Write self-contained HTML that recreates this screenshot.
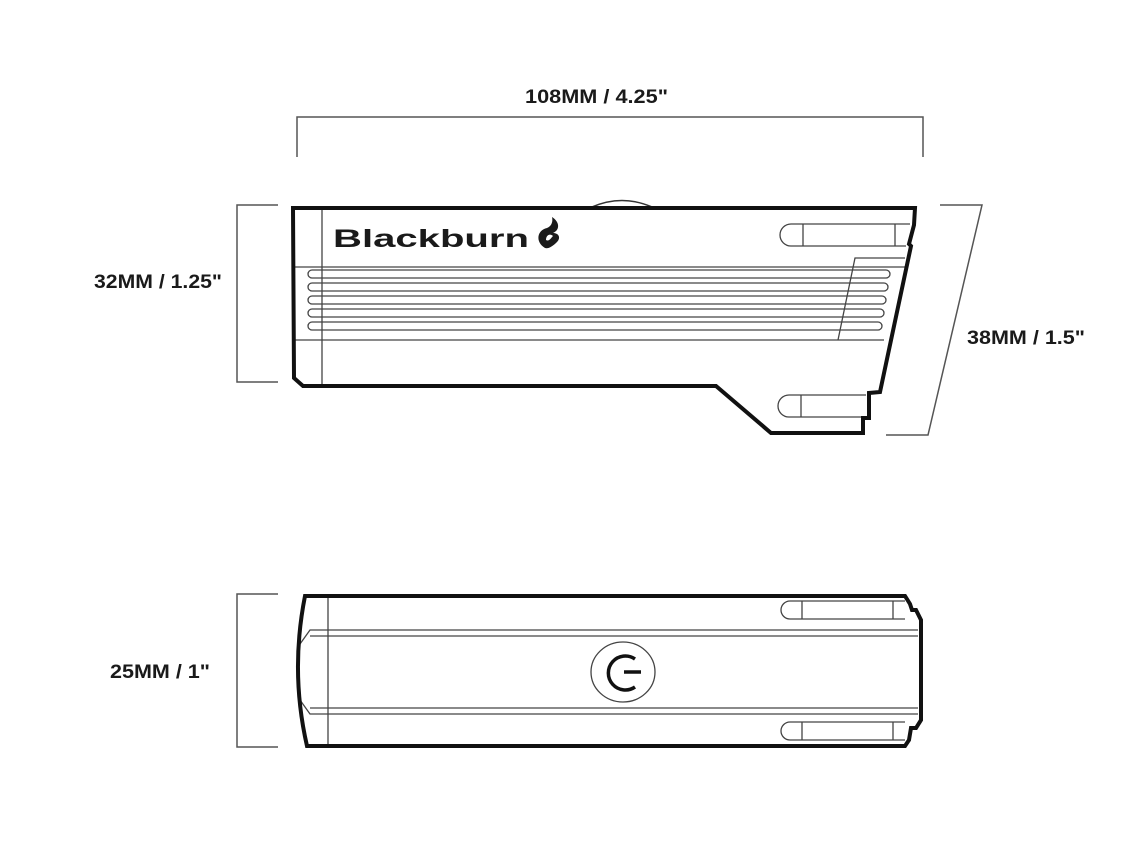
<!DOCTYPE html>
<html><head><meta charset="utf-8"><style>
html,body{margin:0;padding:0;background:#fff;width:1137px;height:855px;overflow:hidden}
svg{display:block}
text{font-family:"Liberation Sans Narrow","Liberation Sans",sans-serif;font-weight:bold;fill:#1a1a1a}
</style></head><body>
<svg width="1137" height="855" viewBox="0 0 1137 855" xmlns="http://www.w3.org/2000/svg">
<g fill="none" stroke="#555" stroke-width="1.5">
<polyline points="297,157 297,117 923,117 923,157"/>
<polyline points="278,205 237,205 237,382 278,382"/>
<polyline points="940,205 982,205 928,435 886,435"/>
<polyline points="278,594 237,594 237,747 278,747"/>
</g>
<text x="525" y="103" font-size="19" textLength="143" lengthAdjust="spacingAndGlyphs">108MM / 4.25"</text>
<text x="94" y="288" font-size="19" textLength="128" lengthAdjust="spacingAndGlyphs">32MM / 1.25"</text>
<text x="967" y="344" font-size="19" textLength="118" lengthAdjust="spacingAndGlyphs">38MM / 1.5"</text>
<text x="110" y="678" font-size="19" textLength="100" lengthAdjust="spacingAndGlyphs">25MM / 1"</text>

<!-- top view -->
<path d="M592,207 Q622,194 652,207" fill="none" stroke="#333" stroke-width="1.5"/>
<g fill="none" stroke="#444" stroke-width="1.3">
<line x1="322" y1="209" x2="322" y2="384"/>
<line x1="295" y1="267" x2="906" y2="267"/>
<line x1="295" y1="340" x2="884" y2="340"/>
<rect x="308" y="270" width="582" height="8" rx="4"/>
<rect x="308" y="283" width="580" height="8" rx="4"/>
<rect x="308" y="296" width="578" height="8" rx="4"/>
<rect x="308" y="309" width="576" height="8" rx="4"/>
<rect x="308" y="322" width="574" height="8" rx="4"/>
<polyline points="905,258 855,258 838,340"/>
<path d="M910,224 L791,224 A11,11 0 0 0 791,246 L906,246"/>
<line x1="803" y1="224" x2="803" y2="246"/>
<line x1="895" y1="224" x2="895" y2="246"/>
<path d="M866,395 L789,395 A11,11 0 0 0 789,417 L866,417"/>
<line x1="801" y1="395" x2="801" y2="417"/>
</g>
<path d="M293,208 L915,208 L914,225 L909,244 L911,246 L880,392 L869,393 L869,418 L863,418 L863,433 L771,433 L716,386 L303,386 L294,378 Z" fill="none" stroke="#111" stroke-width="4" stroke-linejoin="miter"/>
<text x="333" y="247" font-size="25" font-family="Liberation Sans" style="font-family:'Liberation Sans',sans-serif" textLength="196" lengthAdjust="spacingAndGlyphs">Blackburn</text>
<path d="M545,248 C535,242 537,230 547,228 C552,226 553,221 552,217 C560,222 560,230 553,233 C559,233 561,238 557,242 C552,247 548,249 545,248 Z M546,240 C546,235 550,233 553,236 C551,238 549,242 546,240 Z" fill="#1a1a1a" fill-rule="evenodd"/>

<!-- bottom view -->
<g fill="none" stroke="#444" stroke-width="1.3">
<line x1="328" y1="598" x2="328" y2="745"/>
<polyline points="300,644 310,630 918,630"/>
<line x1="310" y1="636" x2="918" y2="636"/>
<polyline points="300,700 310,714 918,714"/>
<line x1="310" y1="708" x2="918" y2="708"/>
<path d="M905,601 L790,601 A9,9 0 0 0 790,619 L905,619 M802,601 L802,619 M893,601 L893,619"/>
<path d="M905,722 L790,722 A9,9 0 0 0 790,740 L905,740 M802,722 L802,740 M893,722 L893,740"/>
<ellipse cx="623" cy="672" rx="32" ry="30"/>
</g>
<path d="M305,596 L905,596 L910,604 L912,610 L916,610 L921,620 L921,720 L916,728 L911,728 L909,740 L905,746 L307,746 Q290,672 305,596 Z" fill="none" stroke="#111" stroke-width="4" stroke-linejoin="miter"/>
<path d="M635,659 A17,17 0 1 0 635,687" fill="none" stroke="#111" stroke-width="3.5"/>
<line x1="624" y1="672" x2="641" y2="672" stroke="#111" stroke-width="3.5"/>
</svg>
</body></html>
